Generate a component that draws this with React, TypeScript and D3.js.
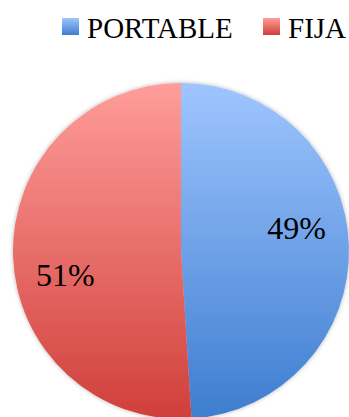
import React from "react";
import * as d3 from "d3";

const categories = ["PORTABLE", "FIJA"];
const values = [49, 51];
const labels = ["49%", "51%"];

const W = 349;
const H = 417;
const cx = 181;
const cy = 251;
const R = 168;

const gradStops = [
  { top: "#9fc5ff", bottom: "#3d7dcf" },
  { top: "#ff9d9a", bottom: "#d03f3a" },
];

export default function App() {
  const pie = d3.pie<number>().sort(null).value((d) => d)(values);
  const arc = d3.arc<d3.PieArcDatum<number>>().innerRadius(0).outerRadius(R);
  const labelR = 118;
  const shift = 0.17;
  const legendX = [62, 263];
  const font = "Liberation Serif";

  return (
    <svg width={W} height={H} style={{ position: "absolute", left: 0, top: 0, background: "#fff" }}>
      <defs>
        {gradStops.map((g, i) => (
          <linearGradient key={i} id={`g${i}`} gradientUnits="userSpaceOnUse" x1={0} y1={-R} x2={0} y2={R}>
            <stop offset="0" stopColor={g.top} />
            <stop offset="1" stopColor={g.bottom} />
          </linearGradient>
        ))}
        {gradStops.map((g, i) => (
          <linearGradient key={`l${i}`} id={`lg${i}`} x1="0" y1="0" x2="0" y2="1">
            <stop offset="0" stopColor={g.top} />
            <stop offset="1" stopColor={g.bottom} />
          </linearGradient>
        ))}
        <filter id="sh" x="-10%" y="-10%" width="120%" height="120%">
          <feDropShadow dx="0" dy="0" stdDeviation="2" floodColor="#000" floodOpacity="0.3" />
        </filter>
      </defs>

      <g transform={`translate(${cx},${cy})`} filter="url(#sh)">
        {pie.map((p, i) => (
          <path key={i} d={arc(p) || ""} fill={`url(#g${i})`} />
        ))}
      </g>
      {pie.map((p, i) => {
        const mid = (p.startAngle + p.endAngle) / 2 - shift;
        const [x, y] = d3.pointRadial(mid, labelR);
        return (
          <text key={i} x={cx + x} y={cy + y} dy="0.35em" textAnchor="middle" fontFamily={font} fontSize={32} fill="#000">
            {labels[i]}
          </text>
        );
      })}
      {categories.map((c, i) => (
        <rect key={`r${c}`} x={legendX[i]} y={18} width={17} height={17} fill={`url(#lg${i})`} />
      ))}
      {categories.map((c, i) => (
        <text key={c} x={legendX[i] + 25} y={38} fontFamily={font} fontSize={29} fill="#000">
          {c}
        </text>
      ))}
    </svg>
  );
}
